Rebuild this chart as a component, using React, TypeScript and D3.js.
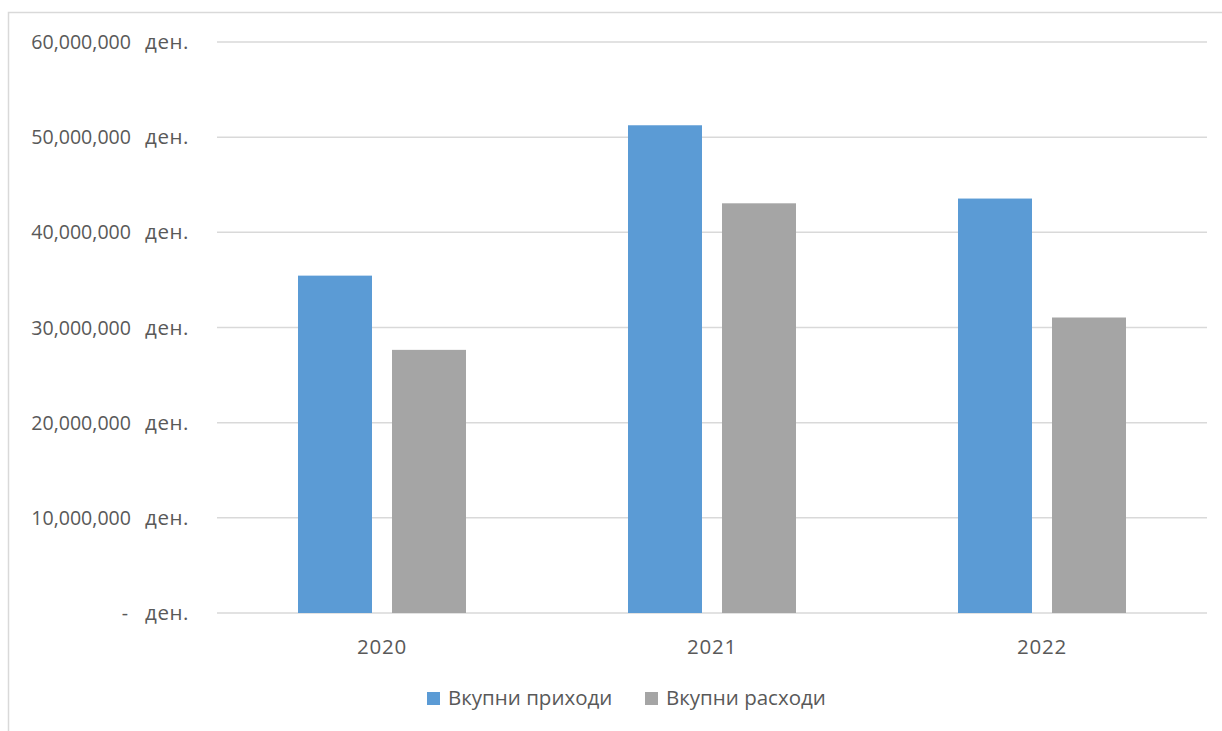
import React, {useEffect, useRef} from "react";
import * as d3 from "d3";

const years = ["2020", "2021", "2022"];
const seriesNames = ["Вкупни приходи", "Вкупни расходи"];
const income = [35450000, 51250000, 43550000];
const expenses = [27650000, 43050000, 31050000];
const yTicks = [0, 10000000, 20000000, 30000000, 40000000, 50000000, 60000000];
const colors = ["#5b9bd5", "#a5a5a5"];

const App: React.FC = () => {
    const svgRef = useRef<SVGSVGElement | null>(null);

    useEffect(() => {
        if (!svgRef.current) return;
        const svg = d3.select(svgRef.current);
        svg.selectAll("*").remove();

        const width = 1222;
        const height = 731;
        const plot = {left: 217, right: 1207, top: 42, bottom: 613};
        const font = "'Open Sans', sans-serif";
        const textColor = "#595959";

        // chart frame
        svg.append("rect")
            .attr("x", 8.5)
            .attr("y", 12.5)
            .attr("width", width)
            .attr("height", height)
            .attr("fill", "white")
            .attr("stroke", "#d9d9d9")
            .attr("stroke-width", 1.5);

        const x = d3.scaleBand()
            .domain(years)
            .range([plot.left, plot.right]);

        const y = d3.scaleLinear()
            .domain([0, 60000000])
            .range([plot.bottom, plot.top]);

        // gridlines
        svg.append("g")
            .selectAll("line")
            .data(yTicks)
            .join("line")
            .attr("x1", plot.left)
            .attr("x2", plot.right)
            .attr("y1", (d) => y(d))
            .attr("y2", (d) => y(d))
            .attr("stroke", "#d9d9d9")
            .attr("stroke-width", 1.5);

        // y labels (accounting style)
        const fmt = d3.format(",");
        const yl = svg.append("g")
            .attr("font-family", font)
            .attr("fill", textColor);
        yl.selectAll("text.num")
            .data(yTicks)
            .join("text")
            .attr("class", "num")
            .attr("x", (d) => (d === 0 ? 128 : 131))
            .attr("y", (d) => y(d) + 7)
            .attr("font-size", "19.6px")
            .attr("text-anchor", "end")
            .text((d) => (d === 0 ? "-" : fmt(d)));
        yl.selectAll("text.cur")
            .data(yTicks)
            .join("text")
            .attr("class", "cur")
            .attr("x", 145)
            .attr("y", (d) => y(d) + 7)
            .attr("font-size", "20.5px")
            .attr("letter-spacing", "0.6px")
            .text("ден.");

        // bars
        const barW = 74;
        const gap = 20;
        const groupW = barW * 2 + gap;
        const data = years.flatMap((yr, i) => [
            {yr, s: 0, v: income[i]},
            {yr, s: 1, v: expenses[i]},
        ]);
        svg.append("g")
            .selectAll("rect")
            .data(data)
            .join("rect")
            .attr("x", (d) => (x(d.yr) || 0) + (x.bandwidth() - groupW) / 2 + d.s * (barW + gap))
            .attr("y", (d) => y(d.v))
            .attr("width", barW)
            .attr("height", (d) => y(0) - y(d.v))
            .attr("fill", (d) => colors[d.s]);

        // category labels
        svg.append("g")
            .selectAll("text")
            .data(years)
            .join("text")
            .attr("x", (d) => (x(d) || 0) + x.bandwidth() / 2)
            .attr("y", 654)
            .attr("text-anchor", "middle")
            .attr("font-family", font)
            .attr("font-size", "20.5px")
            .attr("letter-spacing", "0.8px")
            .attr("fill", textColor)
            .text((d) => d);

        // legend
        const legendX = [427, 645];
        const legend = svg.append("g")
            .selectAll("g")
            .data(seriesNames)
            .join("g")
            .attr("transform", (_, i) => `translate(${legendX[i]},692)`);
        legend.append("rect")
            .attr("width", 13)
            .attr("height", 13)
            .attr("fill", (_, i) => colors[i]);
        legend.append("text")
            .attr("x", 21)
            .attr("y", 13)
            .attr("font-family", font)
            .attr("font-size", "20.5px")
            .attr("fill", textColor)
            .text((d) => d);
    }, []);

    return (
        <svg
            ref={svgRef}
            width={1222}
            height={731}
            style={{position: "absolute", left: 0, top: 0, display: "block", background: "white"}}
        ></svg>
    );
};

export default App;
